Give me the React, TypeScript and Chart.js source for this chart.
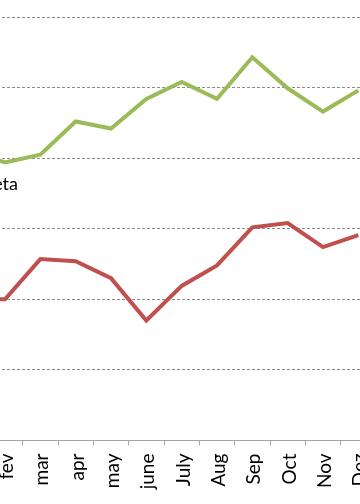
import React, { useEffect, useRef } from "react";
import { Chart, registerables } from "chart.js";

Chart.register(...registerables);

const MONTHS = ["jan", "fev", "mar", "apr", "may", "june", "July", "Aug", "Sep", "Oct", "Nov", "Dez"];
const GREEN_SERIES = [41, 39.4, 40.5, 45.2, 44.2, 48.4, 50.8, 48.4, 54.3, 49.9, 46.6, 49.6];
const RED_SERIES = [20, 20, 25.7, 25.4, 23.0, 17.0, 21.9, 24.8, 30.2, 30.8, 27.4, 29.1];
const Y_MIN = 0;
const Y_MAX = 60;
const Y_STEP = 10;
const NOTE_TEXT = "meta";

const FONT = "Lato, 'Open Sans', 'DejaVu Sans', sans-serif";

const notePlugin = {
  id: "noteText",
  afterDatasetsDraw(chart: any) {
    const { ctx, scales } = chart;
    const x = scales.x.getPixelForValue(1) + 13;
    const y = scales.y.getPixelForValue(35.5);
    ctx.save();
    ctx.font = `18px ${FONT}`;
    ctx.fillStyle = "#000";
    ctx.textAlign = "right";
    ctx.textBaseline = "alphabetic";
    ctx.fillText(NOTE_TEXT, x, y);
    ctx.restore();
  },
};

export default function App() {
  const ref = useRef<HTMLCanvasElement | null>(null);

  useEffect(() => {
    if (!ref.current) return;
    const chart = new Chart(ref.current, {
      type: "line",
      data: {
        labels: MONTHS,
        datasets: [
          {
            label: "green",
            data: GREEN_SERIES,
            borderColor: "#9bbb59",
            borderWidth: 4,
            pointRadius: 0,
            tension: 0,
            fill: false,
          },
          {
            label: "red",
            data: RED_SERIES,
            borderColor: "#c0504d",
            borderWidth: 4,
            pointRadius: 0,
            tension: 0,
            fill: false,
          },
        ],
      },
      options: {
        animation: false,
        responsive: false,
        devicePixelRatio: 1,
        layout: { padding: { left: 12, right: 14, top: 17, bottom: 0 } },
        plugins: {
          legend: { display: false },
          tooltip: { enabled: false },
        },
        scales: {
          x: {
            type: "category",
            offset: true,
            grid: {
              offset: true,
              drawOnChartArea: false,
              drawTicks: true,
              tickLength: 5,
              color: "#a6a6a6",
            },
            border: { display: true, color: "#a6a6a6", width: 1 },
            ticks: {
              autoSkip: false,
              maxRotation: 90,
              minRotation: 90,
              padding: 8,
              labelOffset: 2,
              color: "#000",
              font: { family: FONT, size: 19 },
            },
            afterFit: (scale: any) => {
              scale.height = 63.5;
            },
          },
          y: {
            min: Y_MIN,
            max: Y_MAX,
            ticks: { display: false, stepSize: Y_STEP },
            border: { display: false, dash: [3, 2] },
            grid: {
              drawTicks: false,
              color: (c: any) => (c.tick && c.tick.value === Y_MIN ? "rgba(0,0,0,0)" : "#8c8c8c"),
              lineWidth: 1,
            },
            afterFit: (scale: any) => {
              scale.width = 0;
            },
          },
        },
      },
      plugins: [notePlugin],
    });
    return () => chart.destroy();
  }, []);

  return (
    <div style={{ position: "fixed", left: 0, top: 0, width: 360, height: 504, overflow: "hidden", background: "#fff" }}>
      <canvas ref={ref} width={450} height={504} style={{ position: "absolute", left: -60, top: 0, width: 450, height: 504 }} />
    </div>
  );
}
